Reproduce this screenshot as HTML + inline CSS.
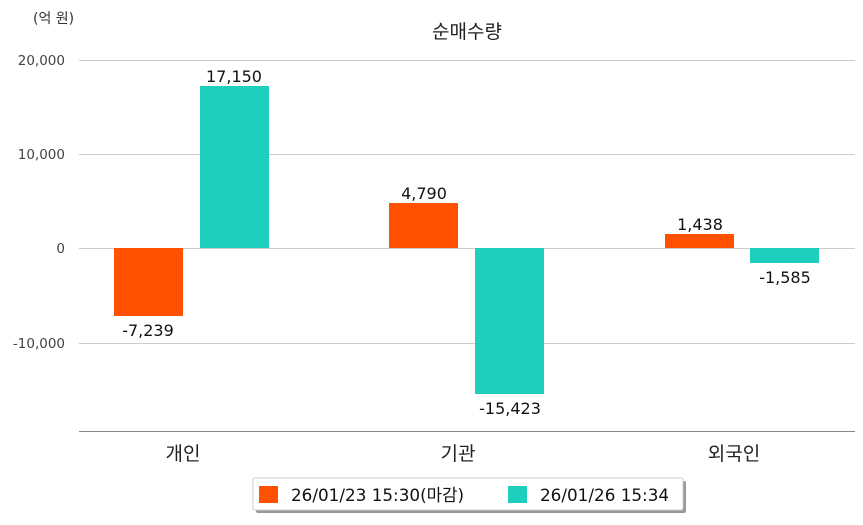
<!DOCTYPE html>
<html><head><meta charset="utf-8"><style>
body{margin:0;background:#fff;width:863px;height:520px;overflow:hidden}
svg text{font-family:"DejaVu Sans","Noto Sans CJK KR",sans-serif}
</style></head><body>
<svg width="863" height="520" xmlns="http://www.w3.org/2000/svg">
<text x="33" y="23" font-size="14" fill="#333">(억 원)</text>
<text x="467" y="38" font-size="19" text-anchor="middle" fill="#222">순매수량</text>
<g stroke="#ccc" stroke-width="1">
<line x1="79" y1="60.5" x2="855" y2="60.5"/>
<line x1="79" y1="154.5" x2="855" y2="154.5"/>
<line x1="79" y1="248.5" x2="855" y2="248.5"/>
<line x1="79" y1="343.5" x2="855" y2="343.5"/>
</g>
<line x1="79" y1="431.5" x2="855" y2="431.5" stroke="#888" stroke-width="1"/>
<g font-size="13.5" fill="#444" text-anchor="end">
<text x="65" y="65">20,000</text>
<text x="65" y="159">10,000</text>
<text x="65" y="253">0</text>
<text x="65" y="348">-10,000</text>
</g>
<g fill="#ff5100">
<rect x="114" y="248" width="69" height="68"/>
<rect x="389" y="203" width="69" height="45"/>
<rect x="665" y="234" width="69" height="14"/>
</g>
<g fill="#1ecfbd">
<rect x="200" y="86" width="69" height="162"/>
<rect x="475" y="248" width="69" height="146"/>
<rect x="750" y="248" width="69" height="15"/>
</g>
<g font-size="16" fill="#111" text-anchor="middle">
<text x="148" y="336">-7,239</text>
<text x="234" y="82">17,150</text>
<text x="424" y="199">4,790</text>
<text x="510" y="414">-15,423</text>
<text x="700" y="230">1,438</text>
<text x="785" y="283">-1,585</text>
</g>
<g font-size="19" fill="#222" text-anchor="middle">
<text x="183" y="460">개인</text>
<text x="458" y="460">기관</text>
<text x="734" y="460">외국인</text>
</g>
<rect x="256" y="481" width="430" height="32" rx="2" fill="#999"/>
<rect x="253" y="478" width="430" height="32" rx="2" fill="#fff" stroke="#ccc"/>
<rect x="259" y="486" width="19" height="17" fill="#ff5100"/>
<text x="291" y="501" font-size="16.8" fill="#111">26/01/23 15:30(마감)</text>
<rect x="508" y="486" width="19" height="17" fill="#1ecfbd"/>
<text x="540" y="501" font-size="16.8" fill="#111">26/01/26 15:34</text>
</svg>
</body></html>
